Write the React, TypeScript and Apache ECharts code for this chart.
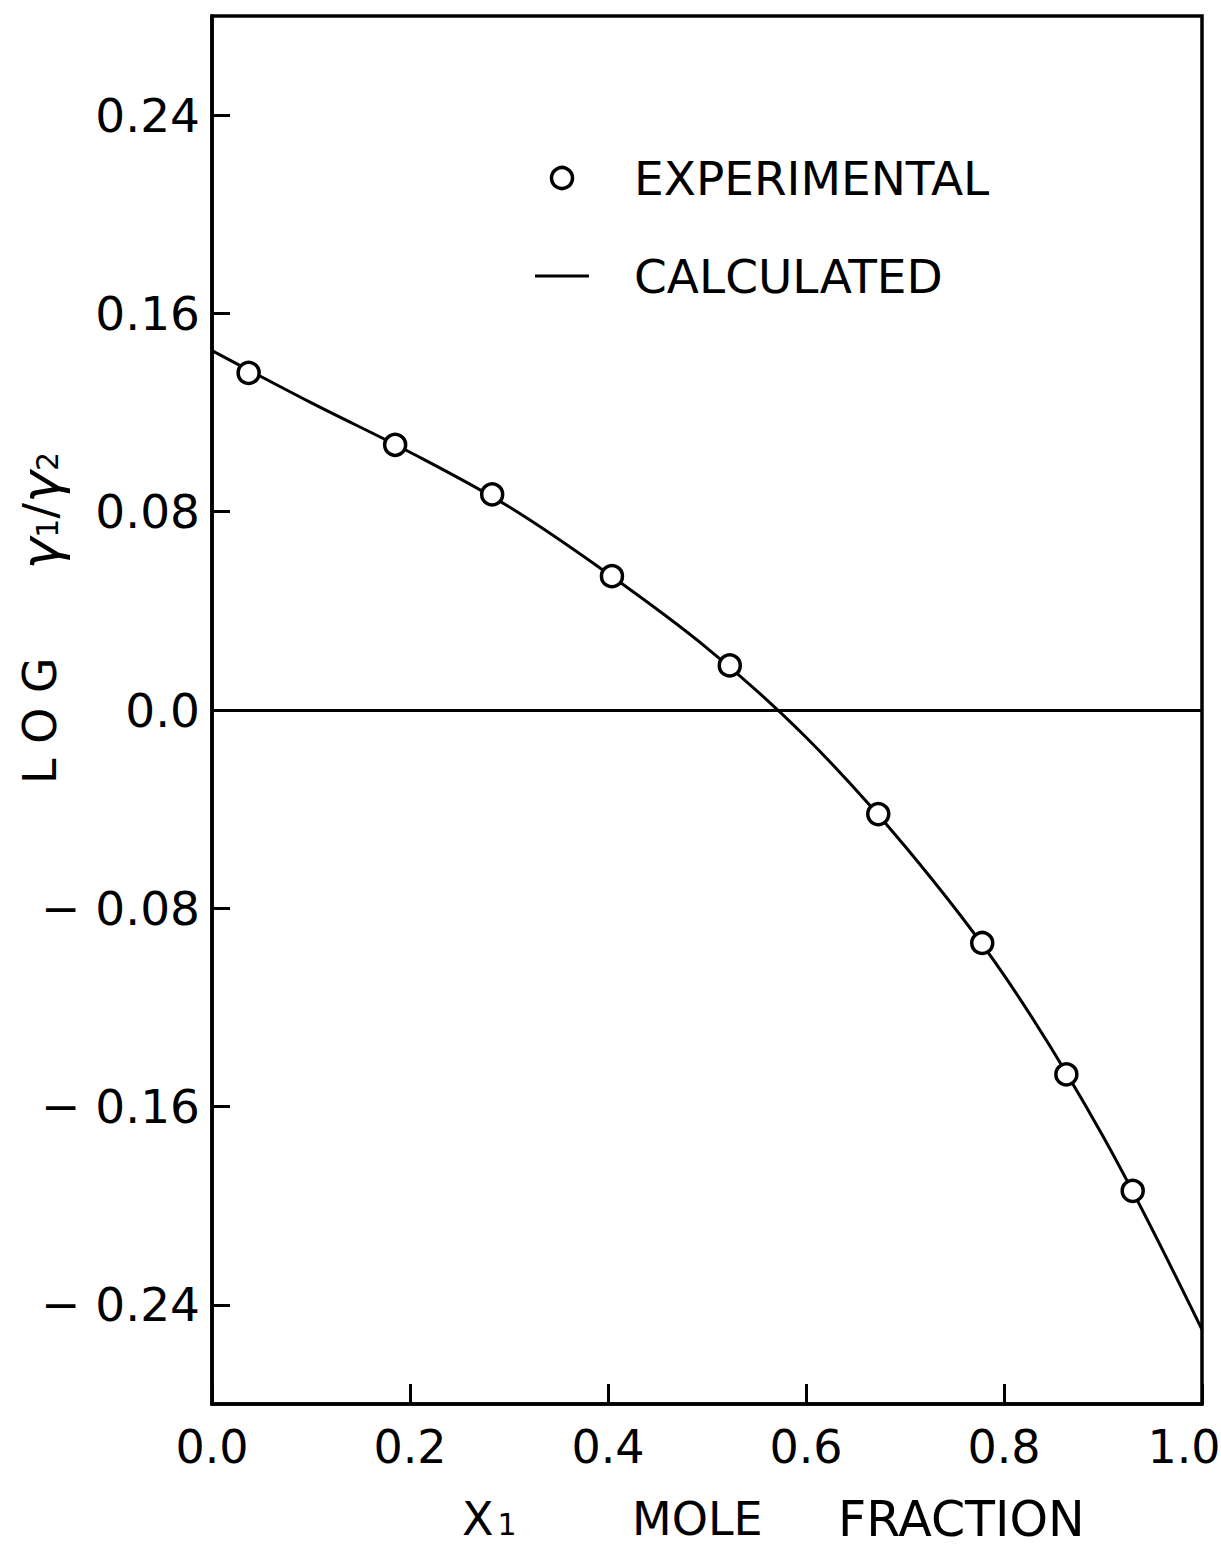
import React, { useEffect, useRef } from "react";
import * as echarts from "echarts";

// Mole fraction of component 1 for the measured points
const expX = [0.037, 0.185, 0.283, 0.404, 0.523, 0.673, 0.778, 0.863, 0.93];
// log(γ1/γ2) measured
const expY = [0.136, 0.107, 0.087, 0.054, 0.018, -0.042, -0.094, -0.147, -0.194];

// Calculated curve
const calcX = [0.0, 0.1, 0.2, 0.3, 0.4, 0.5, 0.6, 0.7, 0.8, 0.9, 1.0];
const calcY = [0.145, 0.124, 0.104, 0.082, 0.055, 0.025, -0.011, -0.055, -0.107, -0.172, -0.25];

const yTicks = [-0.24, -0.16, -0.08, 0.0, 0.08, 0.16, 0.24];
const xTicks = [0.0, 0.2, 0.4, 0.6, 0.8, 1.0];

const FONT = "DejaVu Sans";

export default function App() {
  const ref = useRef<HTMLDivElement>(null);

  useEffect(() => {
    document.body.style.margin = "0";
    document.body.style.overflow = "hidden";
    const chart = echarts.init(ref.current!, null, { renderer: "svg" });
    chart.setOption({
      animation: false,
      backgroundColor: "#fff",
      grid: {
        left: 212,
        right: 19,
        top: 16,
        bottom: 145,
        outerBoundsMode: "none",
        show: true,
        borderColor: "#000",
        borderWidth: 3.5,
      },
      legend: {
        orient: "vertical",
        left: 530,
        top: 148,
        itemWidth: 54,
        itemHeight: 21,
        itemGap: 48,
        data: [
          {
            name: "EXPERIMENTAL",
            icon: "circle",
            itemStyle: { color: "#fff", borderColor: "#000", borderWidth: 3.5, opacity: 1 },
          },
          {
            name: "CALCULATED",
            icon: "path://M0,0 L54,0 L54,3 L0,3 Z",
            itemStyle: { color: "#000", borderWidth: 0, opacity: 1 },
          },
        ],
        textStyle: {
          fontFamily: FONT,
          fontSize: 47,
          color: "#000",
          lineHeight: 50,
          padding: [0, 0, 0, 40],
        },
      },
      xAxis: {
        type: "value",
        min: 0,
        max: 1,
        interval: 0.2,
        splitLine: { show: false },
        axisLine: { onZero: false, lineStyle: { color: "#000", width: 3.5 } },
        axisTick: {
          inside: true,
          length: 20,
          lineStyle: { color: "#000", width: 3 },
          customValues: xTicks,
        },
        axisLabel: {
          customValues: xTicks,
          margin: 20,
          color: "#000",
          fontFamily: FONT,
          fontSize: 46,
          formatter: (v: number) => (v >= 1 ? "{end|" + v.toFixed(1) + "}" : v.toFixed(1)),
          rich: {
            end: { fontFamily: FONT, fontSize: 46, color: "#000", padding: [0, 36, 0, 0] },
          },
        },
      },
      yAxis: {
        type: "value",
        min: -0.28,
        max: 0.28,
        splitLine: { show: false },
        axisLine: { lineStyle: { color: "#000", width: 3.5 } },
        axisTick: {
          inside: true,
          length: 18,
          lineStyle: { color: "#000", width: 3 },
          customValues: yTicks,
        },
        axisLabel: {
          customValues: yTicks,
          margin: 12,
          color: "#000",
          fontFamily: FONT,
          fontSize: 47,
          formatter: (v: number) =>
            Math.abs(v) < 1e-9 ? "0.0" : v < 0 ? "− " + Math.abs(v).toFixed(2) : v.toFixed(2),
        },
      },
      series: [
        {
          name: "CALCULATED",
          type: "line",
          data: calcX.map((x, i) => [x, calcY[i]]),
          smooth: 0.35,
          symbol: "none",
          lineStyle: { color: "#000", width: 3 },
          itemStyle: { color: "#000" },
          markLine: {
            silent: true,
            symbol: "none",
            label: { show: false },
            lineStyle: { color: "#000", width: 3, type: "solid" },
            data: [{ yAxis: 0 }],
          },
          z: 2,
        },
        {
          name: "EXPERIMENTAL",
          type: "scatter",
          data: expX.map((x, i) => [x, expY[i]]),
          symbol: "circle",
          symbolSize: 21,
          itemStyle: { color: "#fff", borderColor: "#000", borderWidth: 3.5, opacity: 1 },
          z: 3,
        },
      ],
      graphic: [
        {
          type: "text",
          x: 40,
          y: 618,
          rotation: Math.PI / 2,
          style: {
            text: "{a|L O G      }{g|γ}{s|1}{a|/}{g|γ}{s|2}",
            align: "center",
            verticalAlign: "middle",
            fill: "#000",
            rich: {
              a: { fontFamily: FONT, fontSize: 46, fill: "#000" },
              g: { fontFamily: FONT, fontSize: 54, fontStyle: "italic", fill: "#000" },
              s: { fontFamily: FONT, fontSize: 30, fill: "#000", padding: [14, 0, 0, 0] },
            },
          },
        },
        {
          type: "text",
          x: 462,
          y: 1519,
          style: {
            text: "{a|X}{s|1}",
            align: "left",
            verticalAlign: "middle",
            fill: "#000",
            rich: {
              a: { fontFamily: FONT, fontSize: 46, lineHeight: 44, fill: "#000" },
              s: { fontFamily: FONT, fontSize: 30, lineHeight: 44, fill: "#000", padding: [10, 0, 0, 4] },
            },
          },
        },
        {
          type: "text",
          x: 632,
          y: 1519,
          style: {
            text: "MOLE",
            align: "left",
            verticalAlign: "middle",
            fill: "#000",
            fontFamily: FONT,
            fontSize: 46,
            lineHeight: 44,
          },
        },
        {
          type: "text",
          x: 838,
          y: 1519,
          style: {
            text: "FRACTION",
            align: "left",
            verticalAlign: "middle",
            fill: "#000",
            fontFamily: FONT,
            fontSize: 49,
            lineHeight: 44,
          },
        },
      ],
    });
    return () => chart.dispose();
  }, []);

  return <div ref={ref} style={{ width: 1221, height: 1549 }} />;
}
